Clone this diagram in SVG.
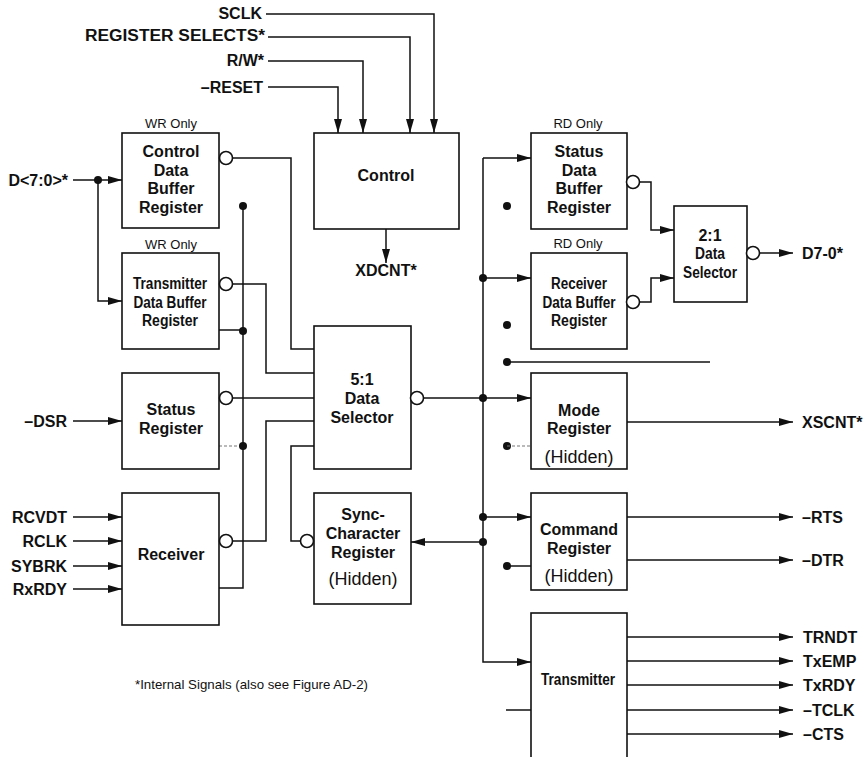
<svg xmlns="http://www.w3.org/2000/svg" width="865" height="757" viewBox="0 0 865 757">
<style>
.bx{fill:#fff;stroke:#111;stroke-width:1.6}
.ln{fill:none;stroke:#111;stroke-width:1.5}
.ar{marker-end:url(#ah)}
.dsh{fill:none;stroke:#777;stroke-width:1.1;stroke-dasharray:3 2}
.bub{fill:#fff;stroke:#111;stroke-width:1.6}
.dot{fill:#111}
text{font-family:"Liberation Sans",Arial,Helvetica,sans-serif;fill:#111}
.b{font-weight:bold;font-size:16px}
.c{text-anchor:middle}
.e{text-anchor:end}
.r{font-size:13px}
.h{font-size:18px}
</style>
<defs>
<marker id="ah" markerUnits="userSpaceOnUse" markerWidth="14" markerHeight="8" refX="14" refY="4" orient="auto">
<path d="M0,0 L14,4 L0,8 z" fill="#111"/>
</marker>
</defs>

<g id="connectors">
<path class="ln ar" d="M266,14 H434 V133"/>
<path class="ln ar" d="M268,37 H410 V133"/>
<path class="ln ar" d="M268,61 H363 V133"/>
<path class="ln ar" d="M268,87 H338 V133"/>
<path class="ln ar" d="M386,229 V263"/>
<path class="ln ar" d="M73,180 H122"/>
<path class="ln ar" d="M98,180 V301 H122"/>
<circle class="dot" cx="98" cy="180" r="4"/>
<path class="ln" d="M232,158 H291 V349 H314"/>
<path class="ln" d="M232,284 H266 V373 H314"/>
<path class="ln" d="M232,398 H314"/>
<path class="ln" d="M219,330 H243"/>
<path class="ln" d="M243,206 V588 H219"/>
<path class="dsh" d="M219,446 H243"/>
<circle class="dot" cx="243" cy="206" r="4"/>
<circle class="dot" cx="243" cy="331" r="4"/>
<circle class="dot" cx="243" cy="446" r="4"/>
<path class="ln" d="M314,421 H266 V541 H232"/>
<path class="ln" d="M314,446 H291 V541 H301"/>
<path class="ln ar" d="M73,421 H122"/>
<path class="ln ar" d="M73,517 H122"/>
<path class="ln ar" d="M73,541 H122"/>
<path class="ln ar" d="M73,566 H122"/>
<path class="ln ar" d="M73,589 H122"/>
<path class="ln" d="M423,398 H483"/>
<path class="ln ar" d="M483,398 H531"/>
<path class="ln ar" d="M483,158 H531"/>
<path class="ln ar" d="M483,158 V662 H531"/>
<path class="ln ar" d="M483,278 H531"/>
<path class="ln ar" d="M483,517 H531"/>
<path class="ln ar" d="M483,542 H411"/>
<circle class="dot" cx="483" cy="278" r="4"/>
<circle class="dot" cx="483" cy="398" r="4"/>
<circle class="dot" cx="483" cy="517" r="4"/>
<circle class="dot" cx="483" cy="542" r="4"/>
<circle class="dot" cx="507" cy="206" r="4"/>
<circle class="dot" cx="507" cy="325" r="4"/>
<circle class="dot" cx="507" cy="362" r="4"/>
<path class="ln" d="M507,362 H710"/>
<circle class="dot" cx="507" cy="446" r="4"/>
<path class="dsh" d="M507,446 H531"/>
<circle class="dot" cx="507" cy="566" r="4"/>
<path class="ln" d="M507,566 H531"/>
<path class="ln ar" d="M640,182 H651 V230 H674"/>
<path class="ln ar" d="M640,302 H651 V278 H674"/>
<path class="ln ar" d="M760,253 H793"/>
<path class="ln ar" d="M627,422 H793"/>
<path class="ln ar" d="M627,517 H793"/>
<path class="ln ar" d="M627,560 H793"/>
<path class="ln ar" d="M627,637 H793"/>
<path class="ln ar" d="M627,661 H793"/>
<path class="ln ar" d="M627,685 H793"/>
<path class="ln ar" d="M627,710 H793"/>
<path class="ln ar" d="M627,734 H793"/>
<path class="ln" d="M506,710 H531"/>
</g>

<g id="labels">
<text class="b e" x="262" y="19">SCLK</text>
<text class="b e" x="265" y="41" textLength="180" lengthAdjust="spacingAndGlyphs">REGISTER SELECTS*</text>
<text class="b e" x="264" y="66">R/W*</text>
<text class="b e" x="263" y="93">–RESET</text>
<text class="b c" x="386" y="276">XDCNT*</text>
<text class="b e" x="68" y="186">D&lt;7:0&gt;*</text>
<text class="b e" x="67" y="427">–DSR</text>
<text class="b e" x="67" y="523">RCVDT</text>
<text class="b e" x="67" y="547">RCLK</text>
<text class="b e" x="67" y="572">SYBRK</text>
<text class="b e" x="67" y="595">RxRDY</text>
<text class="b" x="802" y="259">D7-0*</text>
<text class="b" x="802" y="428">XSCNT*</text>
<text class="b" x="802" y="523">–RTS</text>
<text class="b" x="802" y="566">–DTR</text>
<text class="b" x="803" y="643">TRNDT</text>
<text class="b" x="803" y="667">TxEMP</text>
<text class="b" x="803" y="691">TxRDY</text>
<text class="b" x="803" y="716">–TCLK</text>
<text class="b" x="803" y="740">–CTS</text>
<text class="r c" x="171" y="128">WR Only</text>
<text class="r c" x="171" y="249">WR Only</text>
<text class="r c" x="578" y="128">RD Only</text>
<text class="r c" x="578" y="248">RD Only</text>
<text class="r" x="135" y="689" textLength="233" lengthAdjust="spacingAndGlyphs">*Internal Signals (also see Figure AD-2)</text>
</g>

<g id="control">
<rect class="bx" x="314" y="133" width="145" height="96"/>
<text class="b c" x="386" y="181">Control</text>
</g>

<g id="control-data-buffer">
<rect class="bx" x="122" y="133" width="97" height="95"/>
<text class="b c" x="171" y="157">Control</text>
<text class="b c" x="171" y="176">Data</text>
<text class="b c" x="171" y="194">Buffer</text>
<text class="b c" x="171" y="213">Register</text>
<circle class="bub" cx="226" cy="158" r="6.5"/>
</g>

<g id="transmitter-data-buffer">
<rect class="bx" x="122" y="253" width="97" height="96"/>
<text class="b c" x="170" y="289" textLength="74" lengthAdjust="spacingAndGlyphs">Transmitter</text>
<text class="b c" x="170" y="308" textLength="73" lengthAdjust="spacingAndGlyphs">Data Buffer</text>
<text class="b c" x="170" y="326" textLength="56" lengthAdjust="spacingAndGlyphs">Register</text>
<circle class="bub" cx="226" cy="284" r="6.5"/>
</g>

<g id="status-register">
<rect class="bx" x="122" y="373" width="97" height="96"/>
<text class="b c" x="171" y="415">Status</text>
<text class="b c" x="171" y="434">Register</text>
<circle class="bub" cx="226" cy="398" r="6.5"/>
</g>

<g id="receiver">
<rect class="bx" x="122" y="493" width="97" height="132"/>
<text class="b c" x="171" y="560">Receiver</text>
<circle class="bub" cx="226" cy="541" r="6.5"/>
</g>

<g id="data-selector-5-1">
<rect class="bx" x="314" y="326" width="97" height="143"/>
<text class="b c" x="362" y="385">5:1</text>
<text class="b c" x="362" y="404">Data</text>
<text class="b c" x="362" y="423">Selector</text>
<circle class="bub" cx="417" cy="398" r="6.5"/>
</g>

<g id="sync-character-register">
<rect class="bx" x="314" y="493" width="97" height="111"/>
<text class="b c" x="363" y="520">Sync-</text>
<text class="b c" x="363" y="539">Character</text>
<text class="b c" x="363" y="558">Register</text>
<text class="h c" x="363" y="585">(Hidden)</text>
<circle class="bub" cx="307" cy="541" r="6.5"/>
</g>

<g id="status-data-buffer">
<rect class="bx" x="531" y="133" width="96" height="96"/>
<text class="b c" x="579" y="157">Status</text>
<text class="b c" x="579" y="176">Data</text>
<text class="b c" x="579" y="194">Buffer</text>
<text class="b c" x="579" y="213">Register</text>
<circle class="bub" cx="633" cy="182" r="6.5"/>
</g>

<g id="receiver-data-buffer">
<rect class="bx" x="531" y="253" width="96" height="96"/>
<text class="b c" x="579" y="289" textLength="56" lengthAdjust="spacingAndGlyphs">Receiver</text>
<text class="b c" x="579" y="308" textLength="73" lengthAdjust="spacingAndGlyphs">Data Buffer</text>
<text class="b c" x="579" y="326" textLength="56" lengthAdjust="spacingAndGlyphs">Register</text>
<circle class="bub" cx="633" cy="302" r="6.5"/>
</g>

<g id="data-selector-2-1">
<rect class="bx" x="674" y="206" width="73" height="96"/>
<text class="b c" x="710" y="241">2:1</text>
<text class="b c" x="710" y="259" textLength="30" lengthAdjust="spacingAndGlyphs">Data</text>
<text class="b c" x="710" y="278" textLength="54" lengthAdjust="spacingAndGlyphs">Selector</text>
<circle class="bub" cx="753" cy="253" r="6.5"/>
</g>

<g id="mode-register">
<rect class="bx" x="531" y="373" width="96" height="96"/>
<text class="b c" x="579" y="416">Mode</text>
<text class="b c" x="579" y="434">Register</text>
<text class="h c" x="579" y="463">(Hidden)</text>
</g>

<g id="command-register">
<rect class="bx" x="531" y="493" width="96" height="97"/>
<text class="b c" x="579" y="535">Command</text>
<text class="b c" x="579" y="554">Register</text>
<text class="h c" x="579" y="582">(Hidden)</text>
</g>

<g id="transmitter">
<rect class="bx" x="531" y="613" width="96" height="160"/>
<text class="b c" x="578" y="685" textLength="74" lengthAdjust="spacingAndGlyphs">Transmitter</text>
</g>
</svg>
